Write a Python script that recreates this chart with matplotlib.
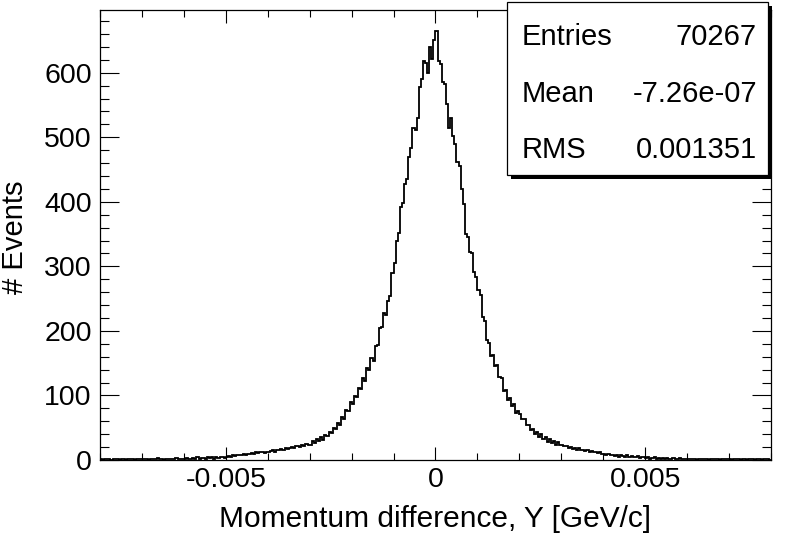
import numpy as np
import matplotlib
matplotlib.use("Agg")
import matplotlib.pyplot as plt
from matplotlib.patches import Rectangle
from matplotlib.ticker import MultipleLocator

# histogram: 320 bins of 5e-5 GeV/c between -0.008 and 0.008
x_lo, x_hi, n_bins = -0.008, 0.008, 320
counts = (
    [1, 0, 1, 2, 1, 0, 1, 1, 2, 0, 1, 1, 0, 2, 1, 1, 0, 1, 2, 1]
    + [1, 2, 1, 0, 2, 1, 1, 3, 1, 2, 0, 1, 2, 1, 2, 1, 3, 1, 2, 1]
    + [2, 3, 1, 2, 3, 2, 4, 2, 3, 3, 2, 4, 3, 5, 2, 4, 3, 4, 5, 3]
    + [5, 6, 5, 7, 6, 7, 8, 7, 9, 8, 10, 9, 11, 10, 12, 11, 12, 13, 11, 13]
    + [13, 14, 15, 13, 16, 15, 17, 16, 18, 17, 19, 20, 18, 22, 21, 20, 23, 22, 25, 24]
    + [24, 29, 26, 32, 29, 35, 31, 39, 37, 44, 42, 50, 48, 58, 55, 66, 64, 77, 76, 90]
    + [86, 99, 97, 112, 110, 127, 123, 142, 139, 158, 154, 176, 178, 205, 206, 228, 225, 246, 254, 290]
    + [305, 340, 352, 392, 398, 428, 436, 470, 484, 514, 512, 530, 578, 590, 618, 615, 600, 640, 622, 650]
    + [664, 618, 614, 585, 583, 552, 515, 530, 502, 490, 462, 455, 420, 396, 350, 346, 322, 320, 292, 284]
    + [263, 255, 222, 216, 186, 182, 161, 163, 146, 147, 128, 127, 107, 108, 93, 96, 83, 86, 73, 76]
    + [72, 63, 63, 54, 55, 47, 48, 41, 44, 36, 40, 32, 36, 28, 32, 26, 30, 24, 28, 23]
    + [23, 21, 22, 19, 20, 17, 19, 16, 18, 15, 16, 14, 15, 13, 14, 12, 13, 11, 12, 10]
    + [10, 8, 9, 7, 8, 6, 8, 5, 7, 6, 5, 7, 4, 6, 5, 4, 6, 3, 5, 4]
    + [3, 4, 2, 3, 4, 2, 3, 2, 3, 1, 3, 2, 2, 3, 1, 2, 3, 1, 2, 2]
    + [2, 1, 2, 1, 0, 2, 1, 1, 2, 1, 0, 1, 2, 1, 1, 0, 2, 1, 1, 1]
    + [1, 0, 1, 1, 2, 0, 1, 1, 0, 1, 2, 1, 0, 1, 1, 0, 1, 2, 1, 0]
)
x_ticks = [-0.005, 0.0, 0.005]
x_tick_labels = ["-0.005", "0", "0.005"]
y_ticks = [0, 100, 200, 300, 400, 500, 600]
y_tick_labels = ["0", "100", "200", "300", "400", "500", "600"]
stat_names = ["Entries", "Mean", "RMS"]
stat_values = ["70267", "-7.26e-07", "0.001351"]

plt.rcParams["font.family"] = ["Liberation Sans", "DejaVu Sans"]
plt.rcParams["axes.unicode_minus"] = False

edges = np.linspace(x_lo, x_hi, n_bins + 1)
counts = np.asarray(counts, dtype=float)

fig = plt.figure(figsize=(7.88, 5.36), dpi=100)
ax = fig.add_axes([100 / 788, 76 / 536, 671 / 788, 450 / 536])
ax.stairs(counts, edges, color="black", lw=1.3, baseline=None)

ax.set_xlim(x_lo, x_hi)
ax.set_ylim(0, 1.05 * counts.max())
ax.set_xticks(x_ticks, x_tick_labels)
ax.set_yticks(y_ticks, y_tick_labels)
ax.xaxis.set_minor_locator(MultipleLocator(0.001))
ax.yaxis.set_minor_locator(MultipleLocator(20))
ax.tick_params(which="both", direction="in", top=True, right=True, width=0.8,
               labelsize=20.5, colors="black")
ax.tick_params(axis="x", which="major", length=9.4, pad=5)
ax.tick_params(axis="x", which="minor", length=4.7)
ax.tick_params(axis="y", which="major", length=13.7, pad=6)
ax.tick_params(axis="y", which="minor", length=6.8)
for sp in ax.spines.values():
    sp.set_linewidth(0.9)

ax.set_xlabel("Momentum difference, Y [GeV/c]", fontsize=21.5)
ax.xaxis.set_label_coords(0.5, -0.099)
ax.set_ylabel("# Events", fontsize=21)
ax.yaxis.set_label_coords(-0.106, 0.495)

# stats box with shadow, in figure coords
bx0, bx1 = 507 / 788, 768 / 788
by0, by1 = 1 - 175 / 536, 1 - 2 / 536
sx, sy = 4 / 788, 4 / 536
ax.add_patch(Rectangle((bx0 + sx, by0 - sy), bx1 - bx0, by1 - by0, transform=fig.transFigure,
                       fc="black", ec="black", lw=0, clip_on=False, zorder=10))
ax.add_patch(Rectangle((bx0, by0), bx1 - bx0, by1 - by0, transform=fig.transFigure,
                       fc="white", ec="black", lw=0.9, clip_on=False, zorder=11))
for k, (name, val) in enumerate(zip(stat_names, stat_values)):
    yb = 1 - (45 + 56.5 * k) / 536
    fig.text(522 / 788, yb, name, fontsize=21, ha="left", va="baseline", zorder=12)
    fig.text(757 / 788, yb, val, fontsize=21, ha="right", va="baseline", zorder=12)

fig.savefig("out.png", dpi=100)
